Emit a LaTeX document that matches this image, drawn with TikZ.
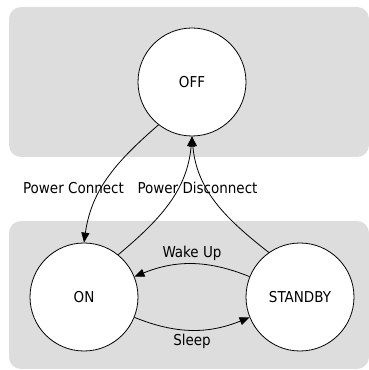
\documentclass[tikz,border=0pt]{standalone}
\usepackage{fontspec}
\setmainfont{DejaVu Sans Condensed}
\usepackage{tikz}
\usetikzlibrary{arrows.meta}
\definecolor{groupgray}{RGB}{221,221,221}

\begin{document}
\begin{tikzpicture}[x=1pt,y=1pt,font=\fontsize{15}{17}\selectfont,
    state/.style={circle,draw,fill=white,minimum size=108pt,inner sep=0pt,line width=0.8pt},
    trans/.style={line width=0.8pt,-{Triangle[length=10pt,width=8pt]}},
    group/.style={fill=groupgray,rounded corners=12pt}]
                \useasboundingbox (0,0) rectangle (369,370);
                \fill[group] (9,213) rectangle (369,363);
                \fill[group] (9,1) rectangle (369,149);

                \node[state] (off) at (192,288) {OFF};
                \node[state] (on) at (84,73) {ON};
                \node[state] (standby) at (300,73) {STANDBY};

                \node (connect) at (73.5,182) {Power Connect};
                \node (disconnect) at (197.5,182) {Power Disconnect};

                \draw[trans] (off.232) to[out=221,in=82] (on.north);
                \draw[trans] (on.51) to[out=40,in=-95] (off.south);
                \draw[trans] (standby.125) to[out=142,in=-85] (off.south);
                \draw[trans] (standby) to[bend right=22] node[above] {Wake Up} (on);
                \draw[trans] (on) to[bend right=22] node[below] {Sleep} (standby);
                % \draw[trans] (off) to[loop above] (off);

            \end{tikzpicture}
\end{document}
